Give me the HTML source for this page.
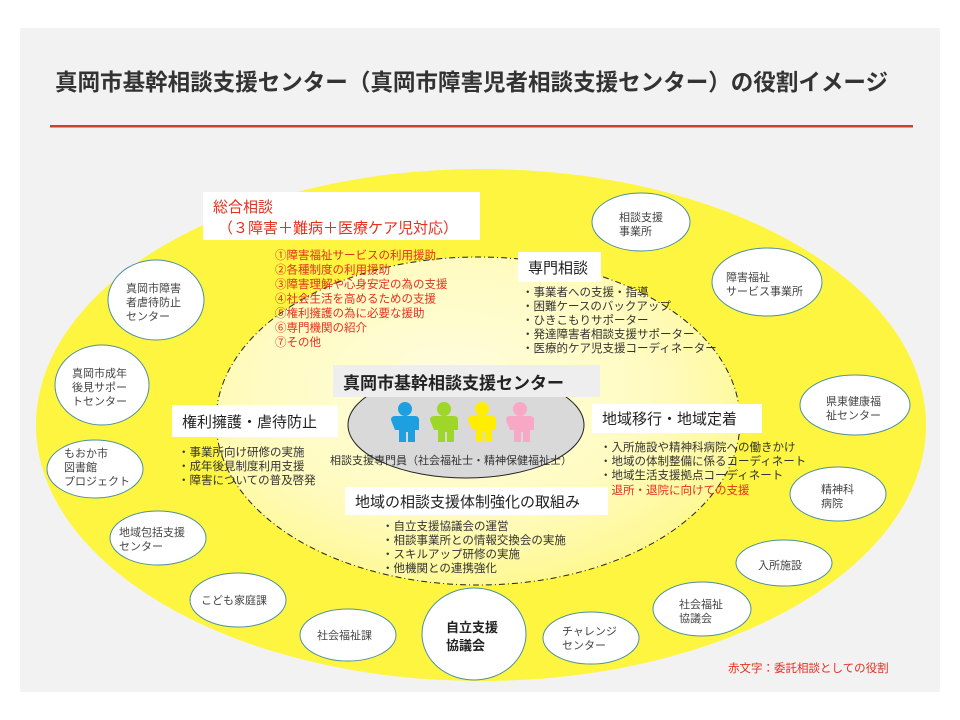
<!DOCTYPE html>
<html><head><meta charset="utf-8"><style>
body{margin:0;background:#fff;}
svg{display:block;font-family:"Liberation Sans","Noto Sans CJK JP",sans-serif;}
</style></head><body>
<svg width="960" height="720" viewBox="0 0 960 720" xmlns="http://www.w3.org/2000/svg">
<rect x="0" y="0" width="960" height="720" fill="#fff"/>
<rect x="20" y="28" width="920" height="664" fill="#f2f2f2"/>
<text x="55" y="90" font-size="23" font-weight="bold" fill="#333" textLength="833" lengthAdjust="spacingAndGlyphs">真岡市基幹相談支援センター（真岡市障害児者相談支援センター）の役割イメージ</text>
<rect x="50" y="125" width="863" height="2.5" fill="#c9432c"/>
<defs>
<radialGradient id="g" cx="0.45" cy="0.4" r="0.65">
<stop offset="0" stop-color="#fffde0"/><stop offset="0.6" stop-color="#fffbc0"/><stop offset="1" stop-color="#fef88a"/>
</radialGradient>
</defs>
<ellipse cx="481" cy="425" rx="445" ry="256" fill="#fdf540"/>
<ellipse cx="478" cy="421" rx="262" ry="164" fill="url(#g)" stroke="#222" stroke-width="1" stroke-dasharray="6,3,1,3"/>
<ellipse cx="466" cy="425" rx="118" ry="53" fill="#d9d9d9" stroke="#222" stroke-width="1"/>
<g>
<circle cx="405" cy="409" r="7" fill="#1ea0e0"/><path d="M391 420 q0-4 4-4 h20 q4 0 4 4 v10 h-4 v12 h-7 v-10 h-2 v10 h-7 v-12 h-4 z" fill="#1ea0e0"/>
<circle cx="444" cy="409" r="7" fill="#9ed62a"/><path d="M430 420 q0-4 4-4 h20 q4 0 4 4 v10 h-4 v12 h-7 v-10 h-2 v10 h-7 v-12 h-4 z" fill="#9ed62a"/>
<circle cx="482" cy="409" r="7" fill="#ffee00"/><path d="M468 420 q0-4 4-4 h20 q4 0 4 4 v10 h-4 v12 h-7 v-10 h-2 v10 h-7 v-12 h-4 z" fill="#ffee00"/>
<circle cx="520" cy="409" r="7" fill="#f7a8c4"/><path d="M506 420 q0-4 4-4 h20 q4 0 4 4 v10 h-4 v12 h-7 v-10 h-2 v10 h-7 v-12 h-4 z" fill="#f7a8c4"/>
</g>
<text x="330" y="464" font-size="11" fill="#333">相談支援専門員（社会福祉士・精神保健福祉士）</text>
<rect x="333" y="365" width="267" height="32" fill="#eeeeee"/>
<text x="343" y="389" font-size="17" font-weight="bold" fill="#222">真岡市基幹相談支援センター</text>
<rect x="203" y="192" width="277" height="48" fill="#fff"/>
<text x="213" y="212" font-size="15" fill="#e53020">総合相談</text>
<text x="218" y="233" font-size="15" fill="#e53020">（３障害＋難病＋医療ケア児対応）</text>
<g font-size="11.5" fill="#e53020">
<text x="275" y="259">①障害福祉サービスの利用援助</text>
<text x="275" y="273.5">②各種制度の利用援助</text>
<text x="275" y="288">③障害理解や心身安定の為の支援</text>
<text x="275" y="302.5">④社会生活を高めるための支援</text>
<text x="275" y="317">⑤権利擁護の為に必要な援助</text>
<text x="275" y="331.5">⑥専門機関の紹介</text>
<text x="275" y="346">⑦その他</text>
</g>
<rect x="518" y="252" width="83" height="30" fill="#fff"/>
<text x="528" y="273" font-size="15" fill="#222">専門相談</text>
<g font-size="11.5" fill="#333">
<text x="522" y="296">・事業者への支援・指導</text>
<text x="522" y="310">・困難ケースのバックアップ</text>
<text x="522" y="324">・ひきこもりサポーター</text>
<text x="522" y="338">・発達障害者相談支援サポーター</text>
<text x="522" y="352">・医療的ケア児支援コーディネーター</text>
</g>
<rect x="172" y="405" width="166" height="32" fill="#fff"/>
<text x="182" y="427" font-size="15" fill="#222">権利擁護・虐待防止</text>
<g font-size="11.5" fill="#333">
<text x="178" y="456">・事業所向け研修の実施</text>
<text x="178" y="470">・成年後見制度利用支援</text>
<text x="178" y="484">・障害についての普及啓発</text>
</g>
<rect x="592" y="404" width="170" height="29" fill="#fff"/>
<text x="602" y="424" font-size="15" fill="#222">地域移行・地域定着</text>
<g font-size="11.5" fill="#333">
<text x="600" y="451">・入所施設や精神科病院への働きかけ</text>
<text x="600" y="465">・地域の体制整備に係るコーディネート</text>
<text x="600" y="479">・地域生活支援拠点コーディネート</text>
<text x="600" y="494" fill="#e53020">・退所・退院に向けての支援</text>
</g>
<rect x="345" y="487" width="263" height="28" fill="#fff"/>
<text x="355" y="507" font-size="15" fill="#222">地域の相談支援体制強化の取組み</text>
<g font-size="11.5" fill="#333">
<text x="382" y="530">・自立支援協議会の運営</text>
<text x="382" y="544">・相談事業所との情報交換会の実施</text>
<text x="382" y="558">・スキルアップ研修の実施</text>
<text x="382" y="572">・他機関との連携強化</text>
</g>
<g fill="#fff" stroke="#4f8f9c" stroke-width="1">
<ellipse cx="641" cy="222" rx="49" ry="29"/>
<ellipse cx="767" cy="282" rx="55" ry="34"/>
<ellipse cx="855" cy="405" rx="55" ry="30"/>
<ellipse cx="838" cy="494" rx="48" ry="27"/>
<ellipse cx="784" cy="563" rx="48" ry="23"/>
<ellipse cx="702" cy="609" rx="49" ry="27"/>
<ellipse cx="591" cy="638" rx="48" ry="26"/>
<ellipse cx="474" cy="634" rx="52" ry="46"/>
<ellipse cx="348" cy="635" rx="48" ry="26"/>
<ellipse cx="238" cy="600" rx="48" ry="27"/>
<ellipse cx="158" cy="538" rx="48" ry="27"/>
<ellipse cx="95" cy="469" rx="48" ry="29"/>
<ellipse cx="102" cy="385" rx="47" ry="40"/>
<ellipse cx="156" cy="300" rx="48" ry="40"/>
</g>
<g font-size="11" fill="#444">
<text x="619" y="221">相談支援</text><text x="619" y="235">事業所</text>
<text x="726" y="281">障害福祉</text><text x="726" y="295">サービス事業所</text>
<text x="826" y="405">県東健康福</text><text x="826" y="419">祉センター</text>
<text x="821" y="493">精神科</text><text x="821" y="507">病院</text>
<text x="758" y="569">入所施設</text>
<text x="679" y="608">社会福祉</text><text x="679" y="622">協議会</text>
<text x="562" y="635">チャレンジ</text><text x="562" y="649">センター</text>
<text x="317" y="639">社会福祉課</text>
<text x="201" y="604">こども家庭課</text>
<text x="119" y="536">地域包括支援</text><text x="119" y="550">センター</text>
<text x="64" y="457">もおか市</text><text x="64" y="471">図書館</text><text x="64" y="485">プロジェクト</text>
<text x="72" y="377">真岡市成年</text><text x="72" y="391">後見サポー</text><text x="72" y="405">トセンター</text>
<text x="126" y="292">真岡市障害</text><text x="126" y="306">者虐待防止</text><text x="126" y="320">センター</text>
</g>
<text x="446" y="632" font-size="13" font-weight="bold" fill="#222">自立支援</text>
<text x="446" y="650" font-size="13" font-weight="bold" fill="#222">協議会</text>
<text x="728" y="672" font-size="11.5" fill="#e53020">赤文字：委託相談としての役割</text>
</svg>
</body></html>
